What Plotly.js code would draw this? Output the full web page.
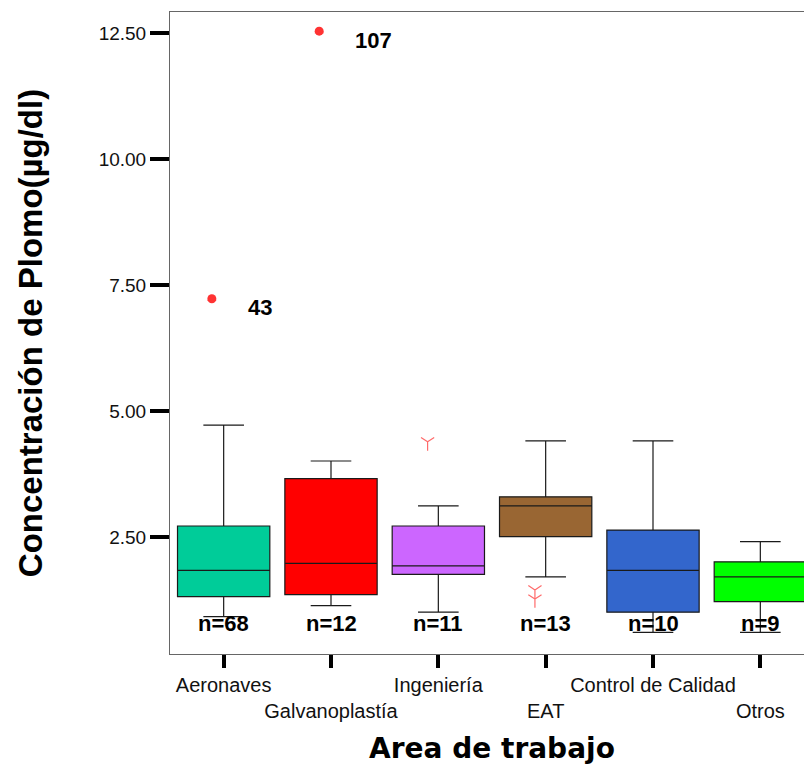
<!DOCTYPE html>
<html>
<head>
<meta charset="utf-8">
<script src="https://cdn.plot.ly/plotly-3.0.1.min.js"></script>
<style>
html,body{margin:0;padding:0;overflow:hidden;background:#fff;}
#chart{width:814px;height:769px;}
</style>
</head>
<body>
<div id="chart"></div>
<script>
// Categories and tick labels
const categories = ["Aeronaves", "Galvanoplastía", "Ingeniería", "EAT", "Control de Calidad", "Otros"];
const tickLabels = ["Aeronaves", "<br>Galvanoplastía", "Ingeniería", "<br>EAT", "Control de Calidad", "<br>Otros"];
const counts = [68, 12, 11, 13, 10, 9];

// Box statistics (µg/dl)
const lowerWhisker = [0.92, 1.14, 1.01, 1.71, 0.61, 0.61];
const q1Values     = [1.32, 1.36, 1.76, 2.51, 1.01, 1.22];
const medians      = [1.84, 1.98, 1.93, 3.12, 1.84, 1.71];
const q3Values     = [2.72, 3.66, 2.72, 3.30, 2.64, 2.01];
const upperWhisker = [4.72, 4.01, 3.12, 4.41, 4.41, 2.41];
const boxColors    = ["#00cc99", "#ff0000", "#cc66ff", "#996633", "#3366cc", "#00ff00"];

// Extreme values (labelled case numbers)
const extremeCat   = [0, 1];
const extremeVal   = [7.23, 12.54];
const extremeCase  = ["43", "107"];

// Outliers
const outlierCat   = [2, 3, 3];
const outlierVal   = [4.39, 1.45, 1.27];

const catIdx = categories.map((c, i) => i);

const traces = [];
categories.forEach((c, i) => {
  traces.push({
    type: "box",
    name: c,
    x: [i],
    q1: [q1Values[i]],
    median: [medians[i]],
    q3: [q3Values[i]],
    lowerfence: [lowerWhisker[i]],
    upperfence: [upperWhisker[i]],
    fillcolor: boxColors[i],
    line: {color: "#1a1a1a", width: 1.2},
    width: 0.86,
    whiskerwidth: 0.44,
    boxpoints: false,
    hoverinfo: "skip",
    showlegend: false
  });
});

// extreme points (droplet-like red markers)
traces.push({
  type: "scatter", mode: "markers", xaxis: "x2", yaxis: "y",
  x: extremeCat.map(i => i - 0.11), y: extremeVal,
  marker: {symbol: "circle", size: 9, color: "#ff3333"},
  hoverinfo: "skip", showlegend: false
});
traces.push({
  type: "scatter", mode: "markers", xaxis: "x2", yaxis: "y",
  x: extremeCat.map(i => i - 0.11), y: extremeVal,
  marker: {symbol: "triangle-up", size: 8, color: "#ff3333"},
  hoverinfo: "skip", showlegend: false
});
// outliers (light red open symbols)
traces.push({
  type: "scatter", mode: "markers", xaxis: "x2", yaxis: "y",
  x: outlierCat.map(i => i - 0.1), y: outlierVal,
  marker: {symbol: "y-down-open", size: 11, color: "#ff6b6b", line: {color: "#ff6b6b", width: 1.2}},
  hoverinfo: "skip", showlegend: false
});

const annotations = [];
categories.forEach((c, i) => {
  annotations.push({
    x: i, y: 0.79, xref: "x", yref: "y", showarrow: false,
    text: "n=" + counts[i],
    font: {family: "Liberation Sans, Arial, sans-serif", size: 22, color: "#000", weight: "bold"}
  });
});
extremeCat.forEach((ci, k) => {
  annotations.push({
    x: ci - 0.11, y: extremeVal[k], xref: "x2", yref: "y", showarrow: false,
    text: extremeCase[k], xanchor: "left", xshift: 34, yshift: -9,
    font: {family: "Liberation Sans, Arial, sans-serif", size: 22, color: "#000", weight: "bold"}
  });
});

const layout = {
  width: 814, height: 769,
  margin: {l: 170, r: 0, t: 12, b: 115},
  paper_bgcolor: "#fff", plot_bgcolor: "#fff",
  showlegend: false,
  xaxis: {
    type: "linear", range: [-0.5, 5.5],
    tickvals: catIdx, ticktext: tickLabels, tickangle: 0,
    ticks: "outside", ticklen: 13, tickwidth: 4, tickcolor: "#000",
    showline: true, mirror: true, linecolor: "#666", linewidth: 1,
    showgrid: false, zeroline: false,
    tickfont: {family: "Liberation Sans, Arial, sans-serif", size: 20, color: "#111"},
    title: {text: "Area de trabajo", standoff: 17,
            font: {family: "DejaVu Sans", size: 28, color: "#000", weight: "bold"}}
  },
  xaxis2: {
    type: "linear", range: [-0.5, 5.5], overlaying: "x", visible: false
  },
  yaxis: {
    range: [0.18, 12.92],
    tickvals: [2.5, 5, 7.5, 10, 12.5], tickformat: ".2f",
    ticks: "outside", ticklen: 19, tickwidth: 4, tickcolor: "#000",
    showline: true, mirror: true, linecolor: "#666", linewidth: 1,
    showgrid: false, zeroline: false,
    tickfont: {family: "Liberation Sans, Arial, sans-serif", size: 19, color: "#111"},
    title: {text: "Concentración de Plomo(µg/dl)", standoff: 46,
            font: {family: "Liberation Sans, Arial, sans-serif", size: 33, color: "#000", weight: "bold"}}
  },
  annotations: annotations
};

Plotly.newPlot("chart", traces, layout, {displayModeBar: false, staticPlot: true});
</script>
</body>
</html>
